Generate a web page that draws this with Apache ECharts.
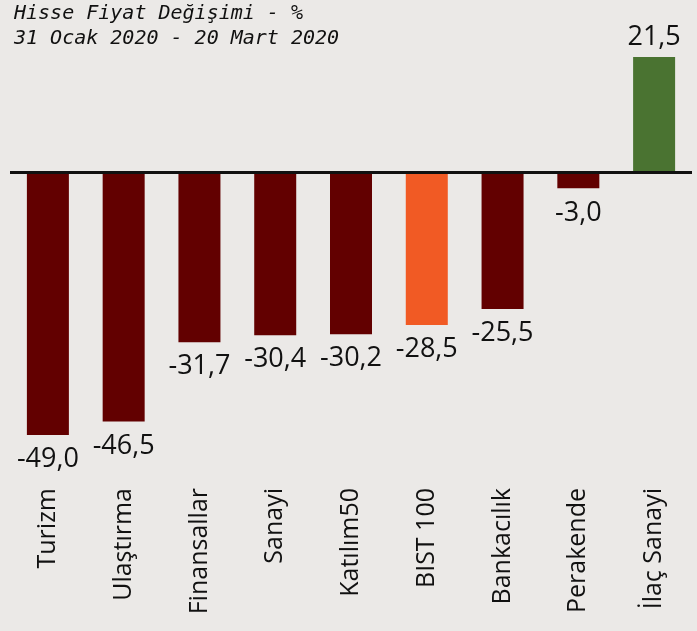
<!DOCTYPE html>
<html>
<head>
<meta charset="utf-8">
<script src="https://cdn.jsdelivr.net/npm/echarts@6/dist/echarts.min.js"></script>
<style>
  html, body { margin: 0; padding: 0; background: #ebe9e7; }
  #chart { width: 697px; height: 631px; }
</style>
</head>
<body>
<div id="chart"></div>
<script>
const categories = ["Turizm", "Ulaştırma", "Finansallar", "Sanayi", "Katılım50", "BIST 100", "Bankacılık", "Perakende", "İlaç Sanayi"];
const values = [-49.0, -46.5, -31.7, -30.4, -30.2, -28.5, -25.5, -3.0, 21.5];
const barColors = ["#620000", "#620000", "#620000", "#620000", "#620000", "#f15a24", "#620000", "#620000", "#4a7331"];

const chartInstance = echarts.init(document.getElementById("chart"));

const option = {
  backgroundColor: "#ebe9e7",
  animation: false,
  title: {
    text: "Hisse Fiyat Değişimi - %\n31 Ocak 2020 - 20 Mart 2020",
    left: 9,
    top: -4,
    textStyle: {
      fontFamily: "DejaVu Sans Mono",
      fontStyle: "italic",
      fontWeight: "normal",
      fontSize: 20,
      lineHeight: 25,
      color: "#111",
    },
  },
  grid: {
    left: 10,
    right: 5,
    top: 57,
    bottom: 196,
    containLabel: false,
  },
  xAxis: {
    type: "category",
    data: categories,
    axisLine: { show: false, onZero: false },
    axisTick: { show: false },
    axisLabel: {
      rotate: 90,
      margin: 53,
      fontFamily: "Open Sans",
      fontSize: 25,
      color: "#111",
    },
  },
  yAxis: {
    type: "value",
    min: -49,
    max: 21.5,
    show: false,
    splitLine: { show: false },
  },
  series: [
    {
      type: "bar",
      barWidth: 42,
      data: values.map((v, i) => ({
        value: v,
        itemStyle: { color: barColors[i] },
        label: v < 0 ? { position: "bottom", distance: 11 } : { position: "top", distance: 6 },
      })),
      label: {
        show: true,
        fontFamily: "Open Sans",
        fontSize: 27,
        color: "#111",
        formatter: (p) => p.value.toFixed(1).replace(".", ","),
      },
      markLine: {
        silent: true,
        symbol: "none",
        label: { show: false },
        lineStyle: { color: "#111", width: 3, type: "solid" },
        data: [{ yAxis: 0 }],
      },
    },
  ],
};

chartInstance.setOption(option);
</script>
</body>
</html>
